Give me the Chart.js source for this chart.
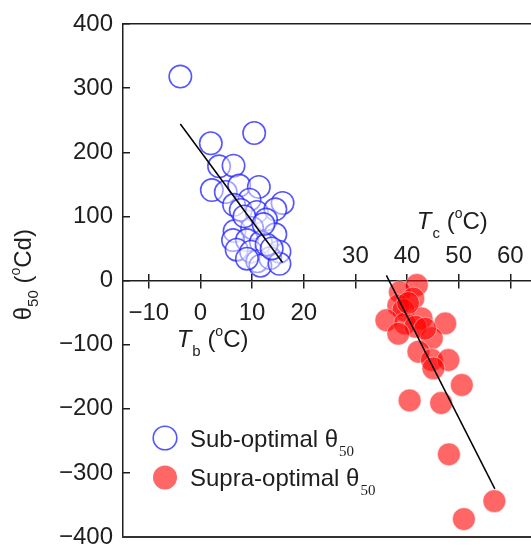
<!DOCTYPE html>
<html><head><meta charset="utf-8">
<script src="https://cdn.jsdelivr.net/npm/chart.js@4.4.1/dist/chart.umd.min.js"></script>
<style>html,body{margin:0;padding:0;background:#fff;}canvas{display:block;}</style>
</head><body>
<canvas id="c" width="531" height="548"></canvas>
<script>
// ---- data ----
const subTb    = [-3.9, 10.4, 2.0, 3.6, 6.4, 2.2, 4.9, 7.5, 11.3, 9.5, 15.9, 6.5, 7.8, 10.9, 14.5, 12.7, 6.6, 10.0, 14.5, 6.3, 9.0, 11.7, 7.0, 9.8, 15.3, 11.0, 13.5, 11.6, 15.3, 9.0, 12.8, 8.5, 12.2, 13.8];
const subTheta = [318, 230, 214, 178, 179, 141, 138, 148, 146, 126, 121, 118, 110, 107, 111, 95, 77, 82, 72, 63, 63, 60, 48, 45, 45, 30, 35, 23, 26, 34, 56, 100, 88, 50];
const supTc    = [41.9, 38.6, 41.2, 38.3, 39.3, 36.0, 42.8, 39.6, 47.4, 41.6, 38.3, 44.8, 42.2, 44.8, 48.0, 45.1, 50.6, 40.5, 46.6, 48.1, 56.9, 51.0, 40.2, 43.5];
const supTheta = [-7, -18, -28, -39, -46, -62, -59, -67, -67, -72, -83, -90, -111, -124, -124, -137, -163, -187, -191, -271, -344, -372, -35, -75];
const subFitX  = [-3.9, 15.9];
const subFitY  = [244, 28];
const supFitX  = [36.0, 57.0];
const supFitY  = [8, -325];
const xTickValues  = [-10, 0, 10, 20, 30, 40, 50, 60];
const xLowerLabels = [-10, 0, 10, 20];
const xUpperLabels = [30, 40, 50, 60];
const yTickValues  = [-400, -300, -200, -100, 0, 100, 200, 300, 400];
const seriesNames  = ['Sub-optimal', 'Supra-optimal'];

// ---- helpers ----
const FONT = "'Liberation Sans', Arial, Helvetica, sans-serif";
const SERIF = "'Liberation Serif', 'Times New Roman', serif";
const INK = '#1e1e1e';
const minus = v => String(v).replace('-', '\u2212');
const pts = (xs, ys) => xs.map((x, i) => ({x: x, y: ys[i]}));
const setTicks = vals => s => { s.ticks = vals.map(v => ({value: v})); };
const noPadX = s => { s.paddingLeft = 0; s.paddingRight = 0; };

const subStyle = {radius: 11.2, border: 'rgba(30,30,255,0.75)', fill: 'rgba(255,255,255,0.45)', bw: 1.6};
const supStyle = {radius: 11.4, border: 'rgba(255,255,255,0.45)', fill: 'rgba(255,0,0,0.6)', bw: 1};

function drawRich(ctx, x, y, parts) {
  let cx = x;
  for (const p of parts) {
    ctx.font = p.font;
    ctx.fillText(p.t, cx, y + (p.dy || 0));
    cx += ctx.measureText(p.t).width + (p.gap || 0);
  }
}

const annot = {
  id: 'annot',
  afterDraw(chart) {
    const ctx = chart.ctx, xs = chart.scales.x, ys = chart.scales.y, ca = chart.chartArea;
    const y0 = ys.getPixelForValue(0);
    const big = `24px ${FONT}`, ital = `italic 24px ${FONT}`, sub = `15px ${FONT}`, sup = `14px ${FONT}`;
    ctx.save();
    ctx.fillStyle = INK; ctx.textAlign = 'left'; ctx.textBaseline = 'alphabetic';
    const tParts = s => [{t: 'T', font: ital, gap: 1}, {t: s, font: sub, dy: 9}, {t: ' (', font: big}, {t: 'o', font: sup, dy: -11}, {t: 'C)', font: big}];
    drawRich(ctx, xs.getPixelForValue(-4.6), y0 + 66, tParts('b'));
    drawRich(ctx, xs.getPixelForValue(41.9), y0 - 52, tParts('c'));
    // y title
    ctx.save();
    ctx.translate(31, ys.getPixelForValue(-62));
    ctx.rotate(-Math.PI / 2);
    drawRich(ctx, 0, 0, [{t: '\u03b8', font: big}, {t: '50', font: sub, dy: 7}, {t: ' (', font: big}, {t: 'o', font: sup, dy: -11}, {t: 'Cd)', font: big}]);
    ctx.restore();
    // legend
    const rows = [
      {st: subStyle, name: seriesNames[0], y: ca.bottom - 99},
      {st: supStyle, name: seriesNames[1], y: ca.bottom - 59.5}
    ];
    for (const r of rows) {
      const cx = ca.left + 42;
      ctx.beginPath();
      ctx.arc(cx, r.y, r.st.radius + 0.6, 0, Math.PI * 2);
      ctx.fillStyle = r.st.fill; ctx.fill();
      if (r.st === subStyle) { ctx.lineWidth = r.st.bw; ctx.strokeStyle = r.st.border; ctx.stroke(); }
      ctx.fillStyle = INK;
      drawRich(ctx, cx + 25, r.y + 8.5, [{t: r.name + ' \u03b8', font: big, gap: 1}, {t: '50', font: `15px ${SERIF}`, dy: 9}]);
    }
    ctx.restore();
  }
};

const tickFont = {family: FONT, size: 24};
const axisBase = {type: 'linear', axis: 'x', min: -15, max: 64};

new Chart(document.getElementById('c'), {
  type: 'scatter',
  data: {
    datasets: [
      {label: 'sub fit', data: pts(subFitX, subFitY), showLine: true, pointRadius: 0, borderColor: '#000', borderWidth: 1.5, order: 0},
      {label: 'supra fit', data: pts(supFitX, supFitY), showLine: true, pointRadius: 0, borderColor: '#000', borderWidth: 1.5, order: 0},
      {label: seriesNames[0], data: pts(subTb, subTheta), pointRadius: subStyle.radius, pointBorderWidth: subStyle.bw,
       borderColor: subStyle.border, backgroundColor: subStyle.fill, pointBorderColor: subStyle.border, pointBackgroundColor: subStyle.fill, order: 1},
      {label: seriesNames[1], data: pts(supTc, supTheta), pointRadius: supStyle.radius, pointBorderWidth: supStyle.bw,
       borderColor: supStyle.border, backgroundColor: supStyle.fill, pointBorderColor: supStyle.border, pointBackgroundColor: supStyle.fill, order: 1}
    ]
  },
  options: {
    responsive: false, animation: false, clip: false,
    layout: {autoPadding: false, padding: {top: 24, right: 0, bottom: 11, left: 0}},
    plugins: {legend: {display: false}, tooltip: {enabled: false}},
    scales: {
      y: {type: 'linear', position: 'left', min: -400, max: 400,
        afterBuildTicks: setTicks(yTickValues),
        afterFit: s => { s.width = 123; s.paddingTop = 0; s.paddingBottom = 0; },
        ticks: {padding: 17, color: INK, font: tickFont, callback: v => minus(v)},
        grid: {drawOnChartArea: false, tickLength: -7, color: INK, lineWidth: 1.5},
        border: {color: INK, width: 1.5}},
      x: Object.assign({}, axisBase, {position: {y: 0},
        afterBuildTicks: setTicks(xTickValues), afterFit: noPadX,
        ticks: {padding: 11, autoSkip: false, maxRotation: 0, color: INK, font: tickFont,
          callback: v => xLowerLabels.includes(v) ? minus(v) : ''},
        grid: {drawOnChartArea: false, tickLength: 7, color: INK, lineWidth: 1.5},
        border: {color: INK, width: 1.5}}),
      xUp: Object.assign({}, axisBase, {position: {y: 0},
        afterBuildTicks: setTicks(xTickValues), afterFit: noPadX,
        ticks: {padding: -32, autoSkip: false, maxRotation: 0, color: INK, font: tickFont,
          callback: v => xUpperLabels.includes(v) ? minus(v) : ''},
        grid: {drawOnChartArea: false, tickLength: -7, color: INK, lineWidth: 1.5},
        border: {display: false}}),
      xTop: Object.assign({}, axisBase, {position: 'top', afterFit: noPadX,
        ticks: {display: false}, grid: {drawOnChartArea: false, drawTicks: false},
        border: {color: INK, width: 1.5}}),
      xBottom: Object.assign({}, axisBase, {position: 'bottom', afterFit: noPadX,
        ticks: {display: false}, grid: {drawOnChartArea: false, drawTicks: false},
        border: {color: '#333', width: 2}})
    }
  },
  plugins: [annot]
});
</script>
</body></html>
